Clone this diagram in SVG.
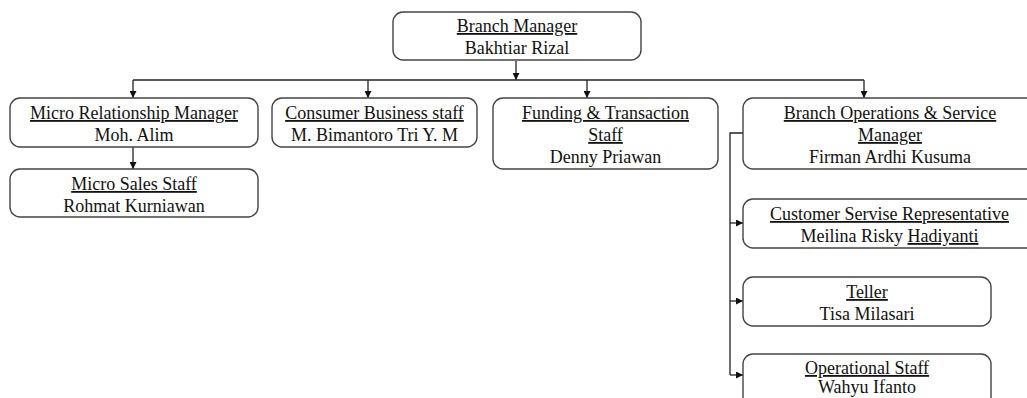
<svg xmlns="http://www.w3.org/2000/svg" width="1027" height="398" viewBox="0 0 1027 398">
<style>
.box{fill:#fff;stroke:#444;stroke-width:1.4}
.t{font-family:"Liberation Serif","Times New Roman",serif;font-size:18px;fill:#111;text-anchor:middle}
.u{text-decoration:underline}
.c{fill:none;stroke:#222;stroke-width:1.3}
</style>
<defs>
<marker id="ah" viewBox="0 0 8 8" refX="8" refY="4" markerWidth="7" markerHeight="7" markerUnits="userSpaceOnUse" orient="auto">
<path d="M0,0 L8,4 L0,8 Z" fill="#111"/>
</marker>
</defs>
<rect width="1027" height="398" fill="#fff"/>
<g id="connectors">
<path class="c" d="M516,61 V80" marker-end="url(#ah)"/>
<path class="c" d="M133,80 H864"/>
<path class="c" d="M133,80 V98" marker-end="url(#ah)"/>
<path class="c" d="M368,80 V98" marker-end="url(#ah)"/>
<path class="c" d="M587,80 V98" marker-end="url(#ah)"/>
<path class="c" d="M864,80 V98" marker-end="url(#ah)"/>
<path class="c" d="M133,147 V169" marker-end="url(#ah)"/>
<path class="c" d="M743,133 H730 V375"/>
<path class="c" d="M730,223 H743" marker-end="url(#ah)"/>
<path class="c" d="M730,301 H743" marker-end="url(#ah)"/>
<path class="c" d="M730,375 H743" marker-end="url(#ah)"/>
</g>
<g id="branch-manager">
<rect class="box" x="393" y="12" width="248" height="48" rx="10"/>
<text class="t" x="517" y="32"><tspan class="u">Branch Manager</tspan></text>
<text class="t" x="517" y="54">Bakhtiar Rizal</text>
</g>
<g id="micro-rm">
<rect class="box" x="10" y="98" width="248" height="49" rx="10"/>
<text class="t" x="134" y="119"><tspan class="u">Micro Relationship Manager</tspan></text>
<text class="t" x="134" y="141">Moh. Alim</text>
</g>
<g id="micro-sales">
<rect class="box" x="10" y="169" width="248" height="48" rx="10"/>
<text class="t" x="134" y="190"><tspan class="u">Micro Sales Staff</tspan></text>
<text class="t" x="134" y="212">Rohmat Kurniawan</text>
</g>
<g id="consumer">
<rect class="box" x="272" y="98" width="205" height="49" rx="10"/>
<text class="t" x="374.5" y="119"><tspan class="u">Consumer Business staff</tspan></text>
<text class="t" x="374.5" y="141">M. Bimantoro Tri Y. M</text>
</g>
<g id="funding">
<rect class="box" x="493" y="98" width="225" height="71" rx="10"/>
<text class="t" x="605.5" y="119"><tspan class="u">Funding &amp; Transaction</tspan></text>
<text class="t" x="605.5" y="141"><tspan class="u">Staff</tspan></text>
<text class="t" x="605.5" y="163">Denny Priawan</text>
</g>
<g id="branch-ops">
<rect class="box" x="743" y="98" width="294" height="71" rx="10"/>
<text class="t" x="890" y="119"><tspan class="u">Branch Operations &amp; Service</tspan></text>
<text class="t" x="890" y="141"><tspan class="u">Manager</tspan></text>
<text class="t" x="890" y="163">Firman Ardhi Kusuma</text>
</g>
<g id="csr">
<rect class="box" x="743" y="199" width="294" height="49" rx="10"/>
<text class="t" x="889.5" y="220"><tspan class="u">Customer Servise Representative</tspan></text>
<text class="t" x="889.5" y="242">Meilina Risky <tspan class="u">Hadiyanti</tspan></text>
</g>
<g id="teller">
<rect class="box" x="743" y="277" width="248" height="49" rx="10"/>
<text class="t" x="867" y="298"><tspan class="u">Teller</tspan></text>
<text class="t" x="867" y="320">Tisa Milasari</text>
</g>
<g id="operational">
<rect class="box" x="743" y="354" width="248" height="60" rx="10"/>
<text class="t" x="867" y="374"><tspan class="u">Operational Staff</tspan></text>
<text class="t" x="867" y="393">Wahyu Ifanto</text>
</g>
</svg>
